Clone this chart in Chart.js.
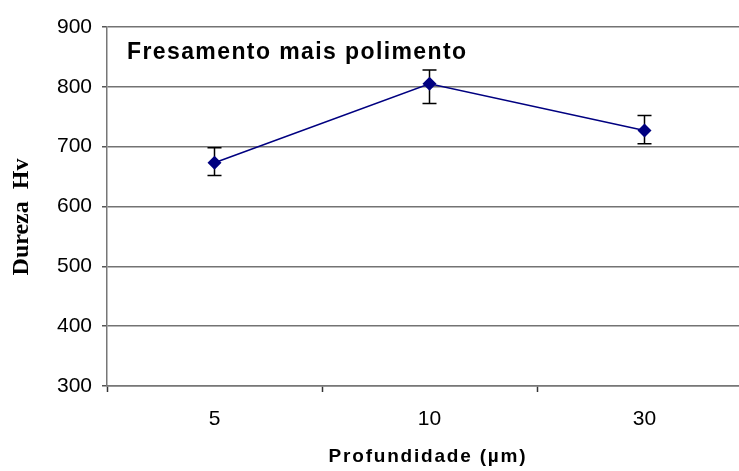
<!DOCTYPE html>
<html>
<head>
<meta charset="utf-8">
<script src="https://cdn.jsdelivr.net/npm/chart.js@4/dist/chart.umd.min.js"></script>
<style>
  body { margin: 0; background: #fff; overflow: hidden; }
  #wrap { width: 760px; height: 471px; }
</style>
</head>
<body>
<div id="wrap"><canvas id="graph"></canvas></div>
<script>
// values
var depths = ['5', '10', '30'];
var hardness = [673, 805, 727];
var errTop = [698, 828, 752];
var errBottom = [652, 772, 705];
var yTicks = [300, 400, 500, 600, 700, 800, 900];

var chartTitle = 'Fresamento mais polimento';
var xTitle = 'Profundidade (µm)';
var yTitle = 'Dureza  Hv';

// error bars, drawn under the markers
var errorBars = {
    id: 'errorBars',
    beforeDatasetsDraw: function (chart) {
        var ctx = chart.ctx;
        var x = chart.scales.x, y = chart.scales.y;
        ctx.save();
        ctx.strokeStyle = '#000';
        ctx.lineWidth = 1.5;
        for (var i = 0; i < depths.length; i++) {
            var px = x.getPixelForValue(i);
            var t = y.getPixelForValue(errTop[i]);
            var b = y.getPixelForValue(errBottom[i]);
            ctx.beginPath();
            ctx.moveTo(px, t); ctx.lineTo(px, b);
            ctx.moveTo(px - 7, t); ctx.lineTo(px + 7, t);
            ctx.moveTo(px - 7, b); ctx.lineTo(px + 7, b);
            ctx.stroke();
        }
        ctx.restore();
    }
};

// title inside the plot, spaced axis titles
var texts = {
    id: 'texts',
    afterDraw: function (chart) {
        var ctx = chart.ctx, a = chart.chartArea;
        ctx.save();
        ctx.fillStyle = '#000';
        ctx.textBaseline = 'alphabetic';
        ctx.font = 'bold 23px "Liberation Sans", Arial, sans-serif';
        ctx.letterSpacing = '1.4px';
        ctx.textAlign = 'left';
        ctx.fillText(chartTitle, a.left + 20, 59);

        ctx.textBaseline = 'middle';
        ctx.font = 'bold 19px "Liberation Sans", Arial, sans-serif';
        ctx.letterSpacing = '1.8px';
        ctx.textAlign = 'center';
        ctx.fillText(xTitle, 428, 457);

        ctx.letterSpacing = '0px';
        ctx.font = 'bold 24px "Liberation Serif", "Times New Roman", serif';
        ctx.translate(22, 217);
        ctx.rotate(-Math.PI / 2);
        ctx.fillText(yTitle, 0, 0);
        ctx.restore();
    }
};

var ctx = document.getElementById('graph').getContext('2d');
var hvChart = new Chart(ctx, {
    type: 'line',
    data: {
        labels: depths,
        datasets: [{
            data: hardness,
            borderColor: '#000080',
            backgroundColor: '#000080',
            borderWidth: 1.5,
            pointStyle: 'rectRot',
            pointRadius: 7,
            pointHoverRadius: 7,
            pointBorderWidth: 0,
            tension: 0
        }]
    },
    options: {
        responsive: true,
        maintainAspectRatio: false,
        animation: false,
        layout: { padding: { top: 27, right: 8, left: 0, bottom: 0 } },
        plugins: {
            legend: { display: false },
            tooltip: { enabled: false }
        },
        scales: {
            x: {
                offset: true,
                afterFit: function (s) { s.height = 85; },
                grid: {
                    offset: true,
                    drawOnChartArea: false,
                    tickLength: 6,
                    tickColor: '#333',
                    tickWidth: 1.5
                },
                border: { color: '#777', width: 1.5 },
                ticks: {
                    color: '#000',
                    padding: 15,
                    font: { family: '"Liberation Sans", Arial', size: 21 }
                }
            },
            y: {
                min: 300,
                max: 900,
                afterFit: function (s) { s.width = 107; },
                afterBuildTicks: function (s) {
                    s.ticks = yTicks.map(function (v) { return { value: v }; });
                },
                grid: {
                    color: '#737373',
                    lineWidth: 1.5,
                    tickLength: 5,
                    tickColor: '#555'
                },
                border: { color: '#777', width: 1.5 },
                ticks: {
                    color: '#000',
                    padding: 10,
                    font: { family: '"Liberation Sans", Arial', size: 21 }
                }
            }
        }
    },
    plugins: [errorBars, texts]
});
</script>
</body>
</html>
